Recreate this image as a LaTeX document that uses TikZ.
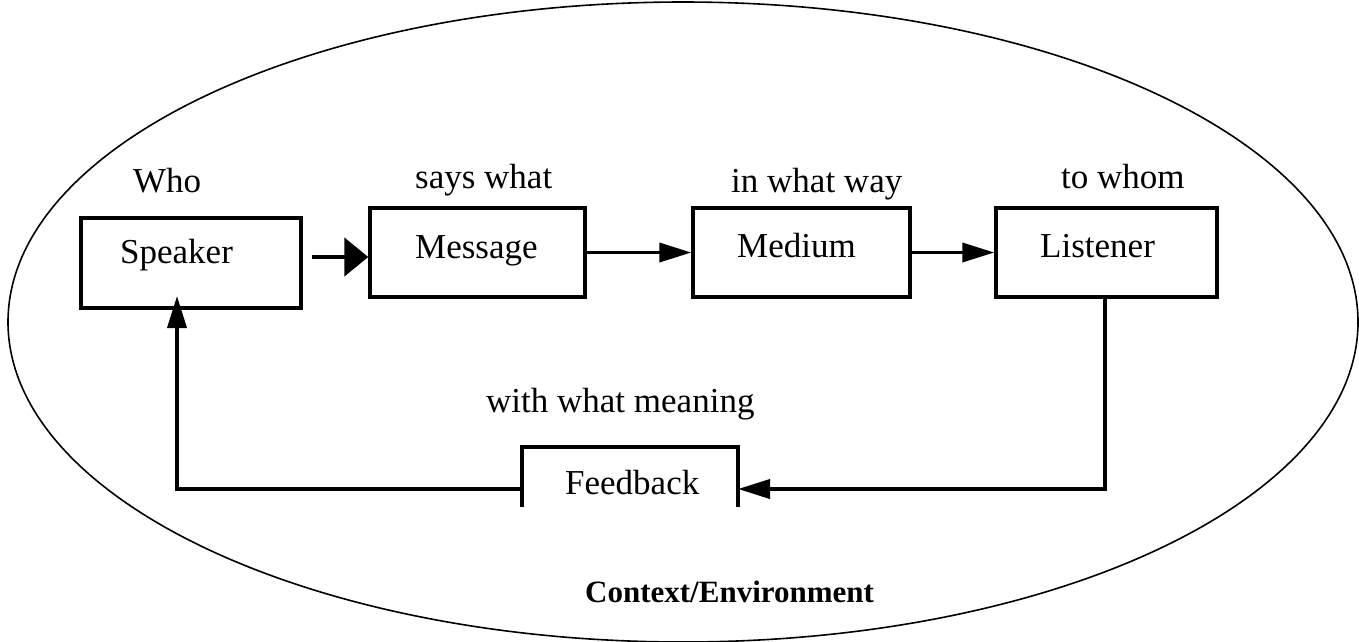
\documentclass[tikz,border=0pt]{standalone}
\usepackage{fontspec}
\setmainfont{Liberation Serif}
\usetikzlibrary{arrows.meta}
\tikzset{
  box/.style={draw, line width=3.4pt, rectangle, inner sep=0pt},
  lbl/.style={anchor=base west, inner sep=0pt, font=\fontsize{35}{42}\selectfont},
  conn/.style={line width=3.8pt},
  tipbig/.style={-{Triangle[length=24pt,width=38pt]}},
  tip/.style={-{Triangle[length=32pt,width=19pt]}},
}
\begin{document}
\begin{tikzpicture}[x=1pt,y=-1pt]
\useasboundingbox (0,0) rectangle (1359,641);
\draw[line width=1.6pt] (683,322) ellipse [x radius=675, y radius=320];
% boxes
\node[box, minimum width=220pt, minimum height=90pt] (speaker) at (191,263) {};
\node[box, minimum width=215pt, minimum height=89pt] (message) at (477.5,252.5) {};
\node[box, minimum width=217pt, minimum height=89pt] (medium) at (801.5,252.5) {};
\node[box, minimum width=221pt, minimum height=89pt] (listener) at (1106.5,252.5) {};
\coordinate (fbtl) at (522,447);
\coordinate (fbtr) at (738,447);
\coordinate (fbbl) at (522,507);
\coordinate (fbbr) at (738,507);
\draw[line width=3.4pt] (fbbl) -- (fbtl) -- (fbtr) -- (fbbr);
\coordinate (fbl) at (522,489);
\coordinate (fbr) at (738,489);
% box labels
\node[lbl] (tspeaker) at (120,263) {Speaker};
\node[lbl] (tmessage) at (415,258) {Message};
\node[lbl] (tmedium) at (737,257) {Medium};
\node[lbl] (tlistener) at (1040,257) {Listener};
\node[lbl] (tfeedback) at (565,494) {Feedback};
% question labels
\node[lbl] (who) at (133,192) {Who};
\node[lbl] (sayswhat) at (415,188) {says what};
\node[lbl] (inwhatway) at (731,192) {in what way};
\node[lbl] (towhom) at (1061,188) {to whom};
\node[lbl] (meaning) at (486,412) {with what meaning};
\node[lbl, font=\fontsize{31}{37}\selectfont\bfseries] (context) at (585,602) {Context/Environment};
% connectors
\coordinate (a1) at (312,257);
\draw[conn, line width=4.4pt, tipbig] (a1) -- (message.west |- a1);
\draw[conn, tip] (message.east) -- (medium.west);
\draw[conn, tip] (medium.east) -- (listener.west);
\coordinate (lb) at (1105,295);
\coordinate (lc) at (1105,489);
\draw[conn, tip] (lb) -- (lc) -- (fbr);
\coordinate (sc) at (177,489);
\coordinate (sb) at (177,296);
\draw[conn, tip] (fbl) -- (sc) -- (sb);
\end{tikzpicture}
\end{document}
